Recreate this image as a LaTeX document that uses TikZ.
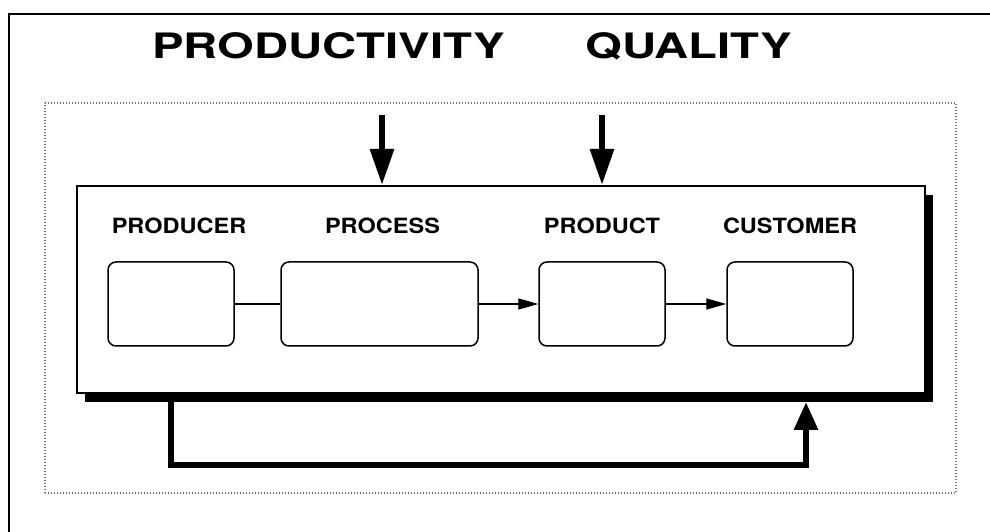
\documentclass[tikz,border=0pt]{standalone}
\usepackage{fontspec}
\newfontfamily\headfont[FakeStretch=1.35]{TeX Gyre Heros}
\newfontfamily\tagfont[FakeStretch=1.12]{TeX Gyre Heros}
\usetikzlibrary{arrows.meta,positioning,shadows}

\begin{document}
\begin{tikzpicture}[
  x=1pt, y=1pt,
  every node/.style={inner sep=0pt},
  stage/.style={draw, line width=1.5pt, rounded corners=8pt, minimum height=84pt, minimum width=126pt},
  tag/.style={font={\tagfont\bfseries\fontsize{21}{24}\selectfont}},
  head/.style={font={\headfont\bfseries\fontsize{35}{40}\selectfont}, anchor=base},
  bigarrow/.style={line width=6pt, -{Triangle[length=36pt,width=23pt]}},
  backarrow/.style={line width=6pt, -{Triangle[length=28pt,width=23pt]}},
  flow/.style={line width=1.4pt, -{Triangle[length=20pt,width=11pt]}},
  ]
  \useasboundingbox (0,0) rectangle (990,532);
  % page edge and system boundary
  \draw[line width=1.6pt] (9,0) -- (9,518) -- (990,518);
  \draw[black!55, line width=1.2pt, dash pattern=on 1.2pt off 1.8pt] (45,39) rectangle (956,429);

  \node[head] (prodty) at (328.5,473) {PRODUCTIVITY};
  \node[head] (quality) at (688.5,473) {QUALITY};

  \node[draw, fill=white, line width=2pt, minimum width=848pt, minimum height=207pt,
        drop shadow={shadow xshift=8pt, shadow yshift=-9pt, fill=black, opacity=1}] (frame) at (501,242.5) {};

  \node[stage] (producer) at (171,228) {};
  \node[stage, minimum width=197pt, right = 45.5pt of producer] (process) {};
  \node[stage, right = 59.5pt of process] (product) {};
  \node[stage, right = 60.5pt of product] (customer) {};

  \node[tag, above = 27pt of producer, xshift=8pt] (producerlbl) {PRODUCER};
  \node[tag, above = 27pt of process, xshift=3pt] (processlbl) {PROCESS};
  \node[tag, above = 27pt of product] (productlbl) {PRODUCT};
  \node[tag, above = 27pt of customer] (customerlbl) {CUSTOMER};

  \draw[line width=1.4pt] (producer) -- (process);
  \draw[flow] (process) -- (product);
  \draw[flow] (product) -- (customer);

  % inputs from above
  \coordinate (prodtysrc) at (382,417);
  \coordinate (qualitysrc) at (602,417);
  \draw[bigarrow] (prodtysrc) -- (prodtysrc |- frame.north);
  \draw[bigarrow] (qualitysrc) -- (qualitysrc |- frame.north);

  % feedback
  \coordinate (fbend) at (806,130);
  \draw[backarrow] (producer |- frame.south) -- ++(0,-71) -| (fbend);
\end{tikzpicture}
\end{document}
